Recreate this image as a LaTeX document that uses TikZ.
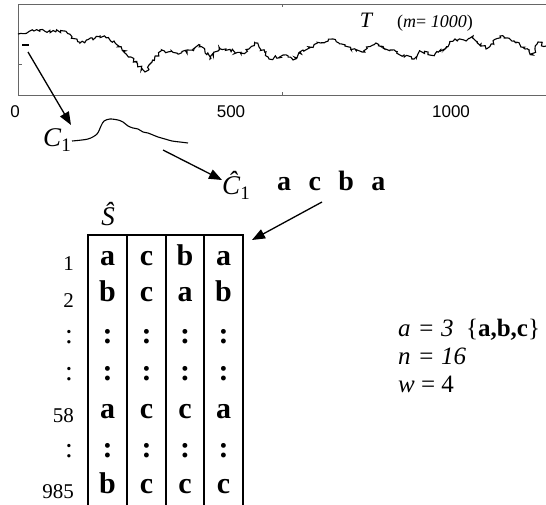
\documentclass[tikz,border=0pt]{standalone}
\usepackage{fontspec}
\setmainfont{Liberation Serif}
\newfontfamily\arialf{Liberation Sans}
\usetikzlibrary{arrows.meta,decorations.pathmorphing}
\begin{document}
\begin{tikzpicture}[x=1pt,y=-1pt,
  arr/.style={-{Triangle[length=13pt,width=10pt]}, line width=1.3pt},
  cell/.style={font=\fontsize{30}{32}\selectfont\bfseries, anchor=base, inner sep=0pt},
  rowlab/.style={font=\fontsize{21}{23}\selectfont, anchor=base east, inner sep=0pt},
  rowdots/.style={font=\fontsize{28}{30}\selectfont, anchor=base east, inner sep=0pt},
  axlab/.style={font=\arialf\fontsize{17}{19}\selectfont, inner sep=0pt},
  frame/.style={draw=black!60, line width=0.8pt},
  series/.style={line width=1.1pt, decorate, decoration={random steps, segment length=2pt, amplitude=1.9pt}},
  big/.style={font=\fontsize{27}{29}\selectfont, inner sep=0pt},
  info/.style={font=\fontsize{25}{27}\selectfont, anchor=base west, inner sep=0pt}]
\useasboundingbox (0,0) rectangle (546,504);
% plot frame
\draw[frame] (546,4) -- (18,4) -- (18,95) -- (546,95);
\draw[frame] (282,4) -- (282,7);
\draw[frame] (282,95) -- (282,92);
\draw[frame] (18,64) -- (22,64);
% series
\pgfmathsetseed{11}
\draw[series] plot coordinates {(18,34) (34,31) (64,31) (80,43) (100,36) (114,41) (131,57) (145,72) (152,62) (162,50) (179,54) (194,49) (200,45) (210,59) (219,47) (241,54) (257,43) (269,59) (283,55) (293,60) (303,50) (321,43) (333,39) (345,46) (362,52) (376,43) (390,50) (404,55) (414,59) (419,52) (435,54) (445,49) (455,39) (466,41) (473,36) (486,49) (500,36) (514,41) (525,49) (533,55) (538,42) (546,46)};
% marker
\coordinate (m1) at (22,45);
\coordinate (m2) at (29,45);
\draw[line width=1.6pt] (m1) -- (m2);
\coordinate (mstart) at (28,52);
% axis labels
\node[axlab] (x0) at (15,112) {0};
\node[axlab] (x500) at (231,112) {500};
\node[axlab] (x1000) at (451,112) {1000};
% T label
\node[font=\fontsize{22}{24}\selectfont\itshape, anchor=base, inner sep=0pt] (T) at (366,27) {T};
\node[font=\fontsize{18}{20}\selectfont, anchor=base west, inner sep=0pt] (m) at (397,27) {(\textit{m}= \textit{1000})};
% C1
\node[big, anchor=base east] (C1) at (71,146) {\textit{C}\raisebox{-0.2em}{\fontsize{19}{20}\selectfont 1}};
\draw[line width=1.1pt] plot[smooth] coordinates {(72,141) (88,139) (97,134) (101,126) (104,121) (110,119) (118,120) (123,122) (128,126) (133,128) (138,129) (143,132) (148,133) (153,135) (158,137) (165,139) (172,141) (180,142) (188,143)};
\draw[arr] (mstart) -- (71,125);
% C hat 1
\node[big, anchor=base west] (Ch) at (222,194) {\textit{Ĉ}\raisebox{-0.2em}{\fontsize{19}{20}\selectfont 1}};
\coordinate (cstart) at (163,150);
\draw[arr] (cstart) -- (Ch.west |- 0,180);
\node[font=\fontsize{28}{30}\selectfont\bfseries, anchor=base west, inner sep=0pt] (word) at (277,190) {a\hspace{0.62em}c\hspace{0.62em}b\hspace{0.62em}a};
% table
\node[big, font=\fontsize{27}{29}\selectfont\itshape] (Sh) at (108,214) {Ŝ};
\draw[line width=1.3pt] (88,510) -- (88,235) -- (243,235) -- (243,510);
\foreach \x in {127,166,204} \draw[line width=1.3pt] (\x,235) -- (\x,510);
\coordinate (tabcorner) at (252,240);
\coordinate (wstart) at (322,202);
\draw[arr] (wstart) -- (tabcorner);
% row labels
\node[rowlab] (r1) at (74,270) {1};
\node[rowlab] (r2) at (74,307) {2};
\node[rowdots] (r3) at (73,343) {:};
\node[rowdots] (r4) at (73,380) {:};
\node[rowlab] (r58) at (74,422) {58};
\node[rowdots] (r6) at (73,457) {:};
\node[rowlab] (r985) at (74,498) {985};
% cells
\foreach \y/\a/\b/\c/\d [count=\i] in {265/a/c/b/a, 301/b/c/a/b, 343/:/:/:/:, 380/:/:/:/:, 418/a/c/c/a, 457/:/:/:/:, 493/b/c/c/c} {
  \node[cell] (c\i-1) at (107.5,\y) {\a};
  \node[cell] (c\i-2) at (146.5,\y) {\b};
  \node[cell] (c\i-3) at (185,\y) {\c};
  \node[cell] (c\i-4) at (223.5,\y) {\d};
}
% info
\node[info] (ia) at (398,336) {\textit{a}\hspace{0.1em} = \hspace{0.05em}\textit{3}\ \ \{\textbf{a,b,c}\}};
\node[info] (in) at (398,364) {\textit{n}\hspace{0.1em} = \hspace{0.05em}\textit{16}};
\node[info] (iw) at (398,392) {\textit{w} = 4};
\end{tikzpicture}
\end{document}
